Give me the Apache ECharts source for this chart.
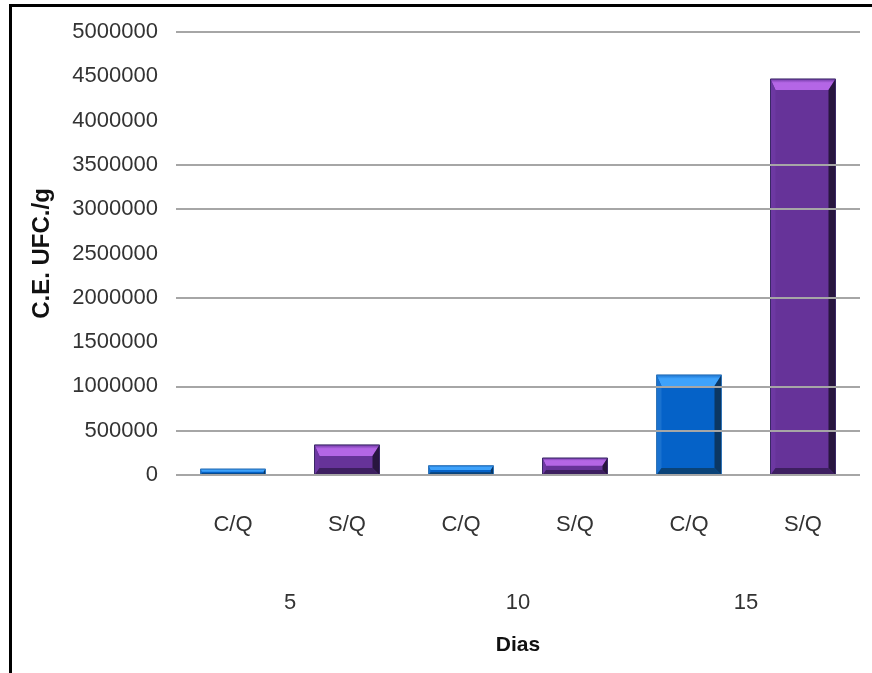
<!DOCTYPE html>
<html>
<head>
<meta charset="utf-8">
<title>C.E. UFC./g por días</title>
<script src="https://cdn.jsdelivr.net/npm/echarts@6/dist/echarts.min.js"></script>
<style>
  html, body { margin: 0; padding: 0; background: #fff; }
  #chart { width: 872px; height: 673px; }
</style>
</head>
<body>
<div id="chart"></div>
<script>
// Días de almacenamiento y tratamientos
const days = ['5', '10', '15'];
const treatments = ['C/Q', 'S/Q'];
// Conteo (UFC/g) por día para cada tratamiento
const valuesCQ = [68000, 105000, 1130000];
const valuesSQ = [340000, 192000, 4470000];
// Niveles del eje Y que llevan línea de división trazada
const gridValues = [0, 500000, 1000000, 2000000, 3000000, 3500000, 5000000];

const seriesValues = [valuesCQ, valuesSQ];

// Categorías del eje X: un par C/Q, S/Q por día
const categories = [];
const barData = [];
days.forEach((d, di) => {
  treatments.forEach((t, ti) => {
    categories.push(t);
    barData.push([categories.length - 1, seriesValues[ti][di], ti]);
  });
});

// Paletas de bisel: cara, luz superior, lado izq., lado der., base, contorno
const palettes = [
  { face: '#0562c8', top: '#3ea2fb', left: '#1a72cf', right: '#0b3763', bottom: '#0a4378', edge: '#2f74b8' },
  { face: '#663399', top: '#b466e6', left: '#6d38a2', right: '#28163f', bottom: '#3d1f60', edge: '#3a2866' }
];

const FONT = "'Liberation Sans', Arial, sans-serif";

// Barra con efecto de bisel dibujada sobre las escalas del gráfico
function renderBevelBar(params, api) {
  const cat = api.value(0);
  const val = api.value(1);
  const pal = palettes[api.value(2)];
  const topPt = api.coord([cat, val]);
  const basePt = api.coord([cat, 0]);
  const w = api.size([1, 0])[0] * 0.57;
  const x0 = topPt[0] - w / 2, x1 = topPt[0] + w / 2;
  const y0 = topPt[1], y1 = basePt[1];
  const h = y1 - y0;
  const k = Math.min(1, h / 24);
  const t = 11 * k, l = 5 * k, r = 7 * k, b = 7 * k;
  return {
    type: 'group',
    children: [
      { type: 'rect', shape: { x: x0, y: y0, width: w, height: h }, style: { fill: pal.face } },
      { type: 'polygon', shape: { points: [[x0, y0], [x1, y0], [x1 - r, y0 + t], [x0 + l, y0 + t]] },
        style: { fill: { type: 'linear', x: 0, y: 0, x2: 0, y2: 1,
          colorStops: [{ offset: 0, color: pal.left }, { offset: 0.35, color: pal.top }, { offset: 1, color: pal.top }] } } },
      { type: 'polygon', shape: { points: [[x0, y0], [x0 + l, y0 + t], [x0 + l, y1 - b], [x0, y1]] },
        style: { fill: pal.left } },
      { type: 'polygon', shape: { points: [[x1, y0], [x1, y1], [x1 - r, y1 - b], [x1 - r, y0 + t]] },
        style: { fill: pal.right } },
      { type: 'polygon', shape: { points: [[x0, y1], [x0 + l, y1 - b], [x1 - r, y1 - b], [x1, y1]] },
        style: { fill: pal.bottom } },
      { type: 'rect', shape: { x: x0, y: y0, width: w, height: h },
        style: { fill: null, stroke: pal.edge, lineWidth: 1 } }
    ]
  };
}

const chart = echarts.init(document.getElementById('chart'));
chart.setOption({
  backgroundColor: '#ffffff',
  animation: false,
  grid: { left: 176, right: 12, top: 32, bottom: 198, containLabel: false },
  xAxis: [
    {
      type: 'category',
      data: categories,
      axisLine: { show: false },
      axisTick: { show: false },
      splitLine: { show: false },
      axisLabel: { color: '#333', fontFamily: FONT, fontSize: 22, margin: 39 },
      name: 'Dias',
      nameLocation: 'middle',
      nameGap: 160,
      nameTextStyle: { color: '#111', fontFamily: FONT, fontWeight: 'bold', fontSize: 21 }
    },
    {
      type: 'category',
      position: 'bottom',
      data: days,
      axisLine: { show: false },
      axisTick: { show: false },
      splitLine: { show: false },
      axisLabel: { color: '#333', fontFamily: FONT, fontSize: 22, margin: 117 }
    }
  ],
  yAxis: {
    type: 'value',
    min: 0,
    max: 5000000,
    interval: 500000,
    axisLine: { show: false },
    axisTick: { show: false },
    axisLabel: { color: '#333', fontFamily: FONT, fontSize: 22, margin: 18,
      formatter: (v) => String(v) },
    splitLine: { show: false },
    name: 'C.E. UFC./g',
    nameLocation: 'middle',
    nameGap: 122,
    nameRotate: 90,
    nameTextStyle: { color: '#111', fontFamily: FONT, fontWeight: 'bold', fontSize: 24 }
  },
  series: [
    {
      // Líneas de división detrás de las barras
      type: 'line',
      z: 1,
      data: [],
      markLine: {
        silent: true,
        symbol: ['none', 'none'],
        label: { show: false },
        lineStyle: { color: '#a6a6a6', width: 2, type: 'solid' },
        data: gridValues.map((v) => ({ yAxis: v }))
      }
    },
    {
      type: 'custom',
      z: 3,
      renderItem: renderBevelBar,
      encode: { x: 0, y: 1 },
      data: barData
    }
  ],
  graphic: [
    // Marco superior e izquierdo
    { type: 'rect', shape: { x: 9, y: 4, width: 863, height: 3 }, style: { fill: '#000' } },
    { type: 'rect', shape: { x: 9, y: 4, width: 3, height: 669 }, style: { fill: '#000' } }
  ]
});
</script>
</body>
</html>
